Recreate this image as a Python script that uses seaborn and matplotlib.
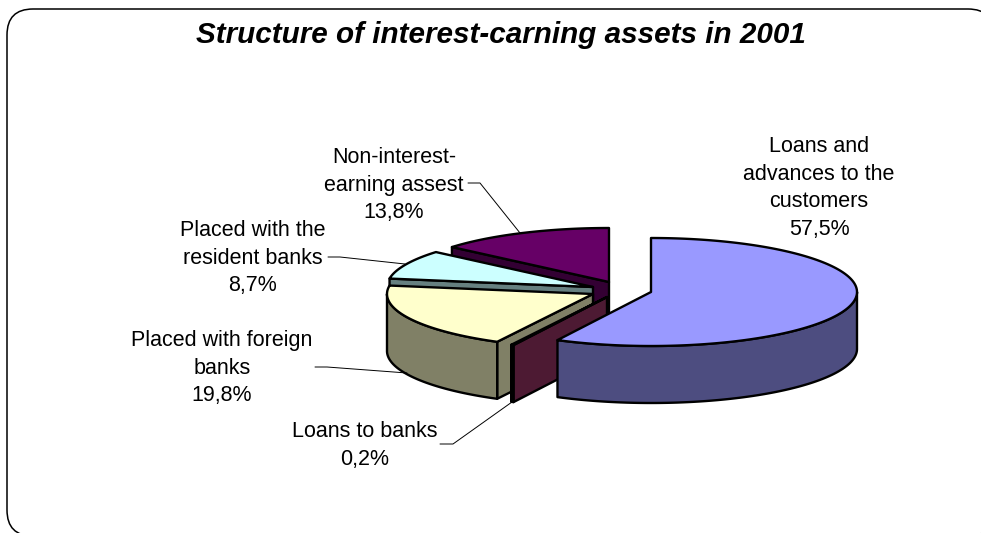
"""Exploded 3D-style pie: structure of interest-earning assets in 2001."""
import numpy as np
import matplotlib
matplotlib.use("Agg")
import matplotlib.pyplot as plt
import seaborn as sns
from matplotlib.patches import FancyBboxPatch, Polygon

# data, clockwise from 12 o'clock
categories = ["Loans and\nadvances to the\ncustomers", "Loans to banks",
              "Placed with foreign\nbanks", "Placed with the\nresident banks",
              "Non-interest-\nearning assest"]
shares = [57.5, 0.2, 19.8, 8.7, 13.8]
share_text = ["57,5%", "0,2%", "19,8%", "8,7%", "13,8%"]
title = "Structure of interest-carning assets in 2001"

# layout in pixels of the picture
apexes = [(651, 292), (607, 297), (593, 294), (593, 287), (609, 282)]
label_xy = [(819, 188), (364.5, 445.5), (222, 368), (252.5, 258), (394, 185)]
leaders = [None,
           [(440, 444), (453, 444), (512, 402)],
           [(315, 367), (327, 367), (407, 373)],
           [(328, 257), (340, 257), (405, 264)],
           [(468, 183), (480, 183), (520, 233)]]
RX, RY, DEPTH = 206, 54, 57
draw_order = [4, 3, 2, 1, 0]

sns.set_theme(style="white")
plt.rcParams["font.family"] = ["Liberation Sans", "DejaVu Sans"]
tops = sns.color_palette(["#9999FF", "#993366", "#FFFFCC", "#CCFFFF", "#660066"])
sides = [tuple(np.array(c) * 0.5) for c in tops]

fig = plt.figure(figsize=(9.81, 5.33), dpi=100)
ax = fig.add_axes([0, 0, 1, 1])
ax.set_xlim(0, 981)
ax.set_ylim(533, 0)
ax.axis("off")

# chart frame runs past the right and bottom edge of the picture
ax.add_patch(FancyBboxPatch((33, 35), 935, 475, boxstyle="round,pad=26,rounding_size=26",
                            fc="white", ec="black", lw=1.1))


def arc(cx, cy, t1, t2, dy=0):
    t = np.radians(np.linspace(t1, t2, max(int(abs(t2 - t1)) * 2, 2)))
    return np.column_stack([cx + RX * np.sin(t), cy - RY * np.cos(t) + dy])


edges = np.cumsum([0] + shares) * 3.6
style = dict(ec="black", lw=1.7, joinstyle="round")
for i in draw_order:
    cx, cy = apexes[i]
    t1, t2 = edges[i], edges[i + 1]
    # cut face at the start of the slice, only if it looks towards the viewer
    if 180 < t1 < 360:
        p = arc(cx, cy, t1, t1)[0]
        ax.add_patch(Polygon([(cx, cy), p, p + (0, DEPTH), (cx, cy + DEPTH)],
                             fc=sides[i], **style))
    # outer wall, front half only
    s1, s2 = max(t1, 90), min(t2, 270)
    if s2 > s1:
        wall = np.vstack([arc(cx, cy, s1, s2), arc(cx, cy, s2, s1, DEPTH)])
        ax.add_patch(Polygon(wall, fc=sides[i], **style))
    ax.add_patch(Polygon(np.vstack([[(cx, cy)], arc(cx, cy, t1, t2)]), fc=tops[i], **style))

for line in leaders:
    if line:
        xs, ys = zip(*line)
        ax.plot(xs, ys, color="black", lw=0.7)

for name, pct, (x, y) in zip(categories, share_text, label_xy):
    ax.text(x, y, f"{name}\n{pct}", ha="center", va="center", fontsize=15.5,
            color="black", linespacing=1.4)

ax.text(501, 35, title, ha="center", va="center", fontsize=21.3,
        fontweight="bold", fontstyle="italic", color="black")

fig.savefig("out.png", dpi=100)
